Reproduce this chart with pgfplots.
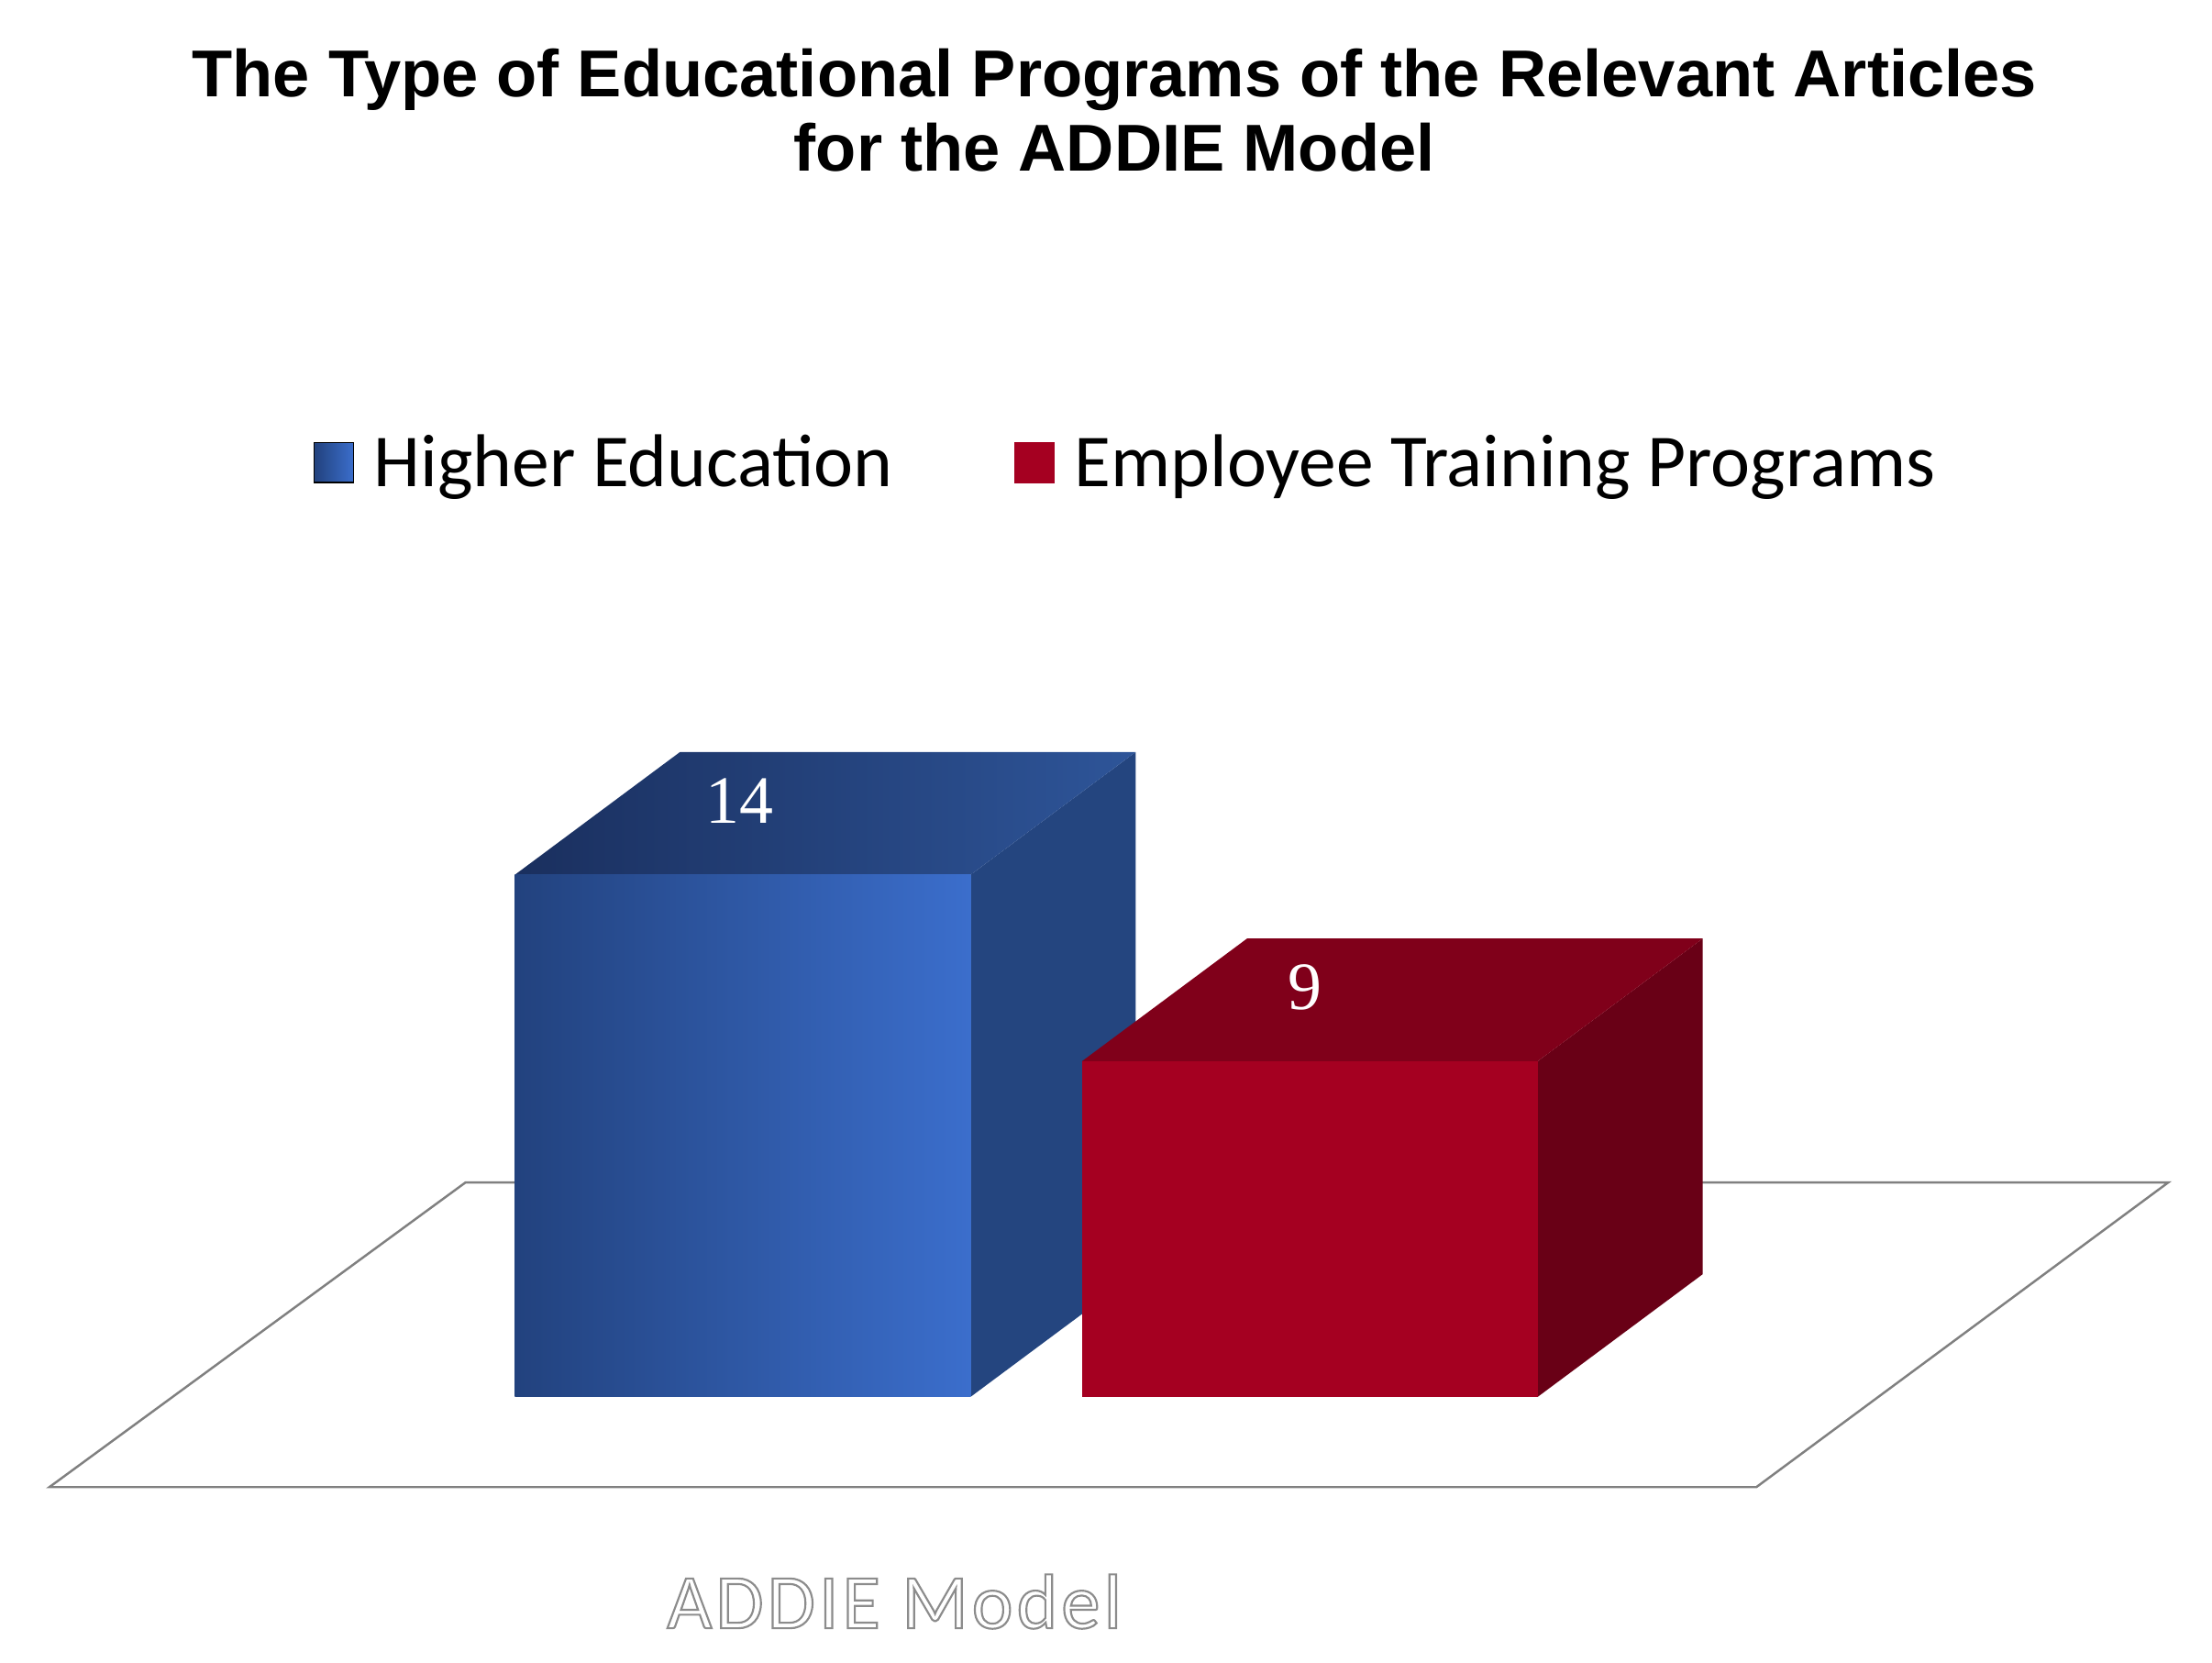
\documentclass[border=0pt]{standalone}
\usepackage{fontspec}
\setmainfont{Liberation Sans}
\newfontfamily\calfont{Carlito}
\newfontfamily\calspaced{Carlito}[LetterSpace=5]
\newfontfamily\serfont{Liberation Serif}
\usepackage{pgfplots}
\pgfplotsset{compat=1.18}
\definecolor{hbA}{HTML}{22427E}
\definecolor{hbB}{HTML}{3B6ECC}
\definecolor{htA}{HTML}{1A2F5E}
\definecolor{htB}{HTML}{2E5599}
\definecolor{hbS}{HTML}{24457F}
\definecolor{rdF}{HTML}{A50021}
\definecolor{rdT}{HTML}{80001A}
\definecolor{rdS}{HTML}{690016}
\definecolor{flr}{HTML}{808080}
\definecolor{lbl}{HTML}{A8A8A8}
\begin{document}
\begin{tikzpicture}
\begin{axis}[
  x=0.5pt, y=13.215pt,
  xmin=0, xmax=1568, ymin=-7.113, ymax=37.457,
  hide axis, clip=false,
  legend columns=2,
  legend style={draw=none, fill=none, at={(axis cs:222,25.05)}, anchor=west,
    inner sep=0pt, font=\calfont\fontsize{26.5}{30}\selectfont,
    /tikz/every even column/.append style={column sep=41pt}},
  legend cell align=left,
]
% floor
\addplot[draw=flr, line width=0.8pt, fill=white, mark=none, forget plot]
  coordinates {(35,-2.42) (1245,-2.42) (1537,5.75) (330,5.75)} -- cycle;
% Higher Education = 14
\addplot[draw=none, fill=hbS, mark=none, forget plot]
  coordinates {(688,0) (688,14) (805,17.29) (805,3.29)} -- cycle;
\addplot[draw=none, left color=htA, right color=htB, mark=none, forget plot]
  coordinates {(365,14) (688,14) (805,17.29) (482,17.29)} -- cycle;
\addplot[draw=none, left color=hbA, right color=hbB, mark=none, forget plot]
  coordinates {(365,0) (688,0) (688,14) (365,14)} -- cycle;
% Employee Training Programs = 9
\addplot[draw=none, fill=rdS, mark=none, forget plot]
  coordinates {(1090,0) (1090,9) (1207,12.29) (1207,3.29)} -- cycle;
\addplot[draw=none, fill=rdT, mark=none, forget plot]
  coordinates {(767,9) (1090,9) (1207,12.29) (884,12.29)} -- cycle;
\addplot[draw=none, fill=rdF, mark=none, forget plot]
  coordinates {(767,0) (1090,0) (1090,9) (767,9)} -- cycle;
% legend
\addlegendimage{legend image code/.code={\shade[left color=hbA, right color=hbB] (0pt,-7pt) rectangle (14pt,7pt); \path (19pt,0pt);}}
\addlegendentry{Higher Education}
\addlegendimage{legend image code/.code={\fill[rdF] (0pt,-7pt) rectangle (14pt,7pt); \path (19pt,0pt);}}
\addlegendentry{Employee Training Programs}
% value labels
\node[text=white, font=\serfont\fontsize{24}{28}\selectfont] at (axis cs:524,15.97) {14};
\node[text=white, font=\serfont\fontsize{24}{28}\selectfont] at (axis cs:925,10.97) {9};
% category label
\node[text=lbl, font=\calspaced\fontsize{27.5}{30}\selectfont] at (axis cs:634,-5.49)
  {\special{pdf:literal direct 2 Tr 0.7 w 0.55 G 1 g}ADDIE Model\special{pdf:literal direct 0 Tr}};
% title
\node[anchor=center, align=center, font=\bfseries\fontsize{23.5}{26.5}\selectfont]
  at (axis cs:790,34.5) {The Type of Educational Programs of the Relevant Articles\\for the ADDIE Model};
\end{axis}
\pgfresetboundingbox
\path (current axis.south west) rectangle (current axis.north east);
\end{tikzpicture}
\end{document}
